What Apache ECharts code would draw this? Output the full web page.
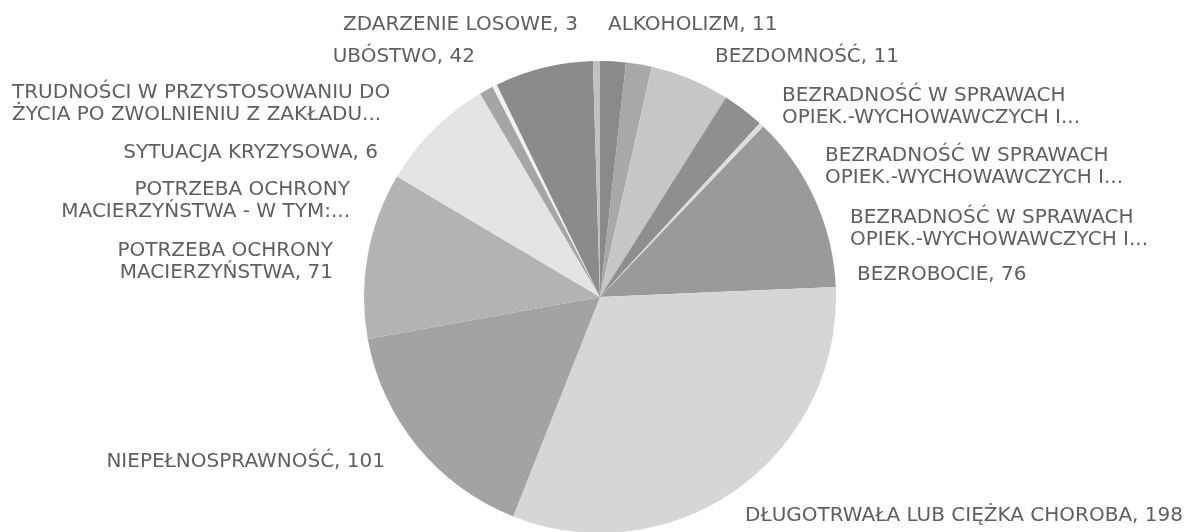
<!DOCTYPE html>
<html lang="pl">
<head>
    <meta charset="UTF-8">
    <title>Powody przyznania pomocy</title>
    <script src="https://cdn.jsdelivr.net/npm/echarts@6/dist/echarts.min.js"></script>
    <style>
        html, body { margin: 0; padding: 0; background: #fff; }
        #main { width: 1204px; height: 532px; }
    </style>
</head>
<body>
<div id="main"></div>
<script>
    // kategorie (w kolejnosci zgodnej z ruchem wskazowek zegara od godz. 12)
    var categories = [
        'ALKOHOLIZM',
        'BEZDOMNOŚĆ',
        'BEZRADNOŚĆ W SPRAWACH\nOPIEK.-WYCHOWAWCZYCH I...',
        'BEZRADNOŚĆ W SPRAWACH\nOPIEK.-WYCHOWAWCZYCH I...',
        'BEZRADNOŚĆ W SPRAWACH\nOPIEK.-WYCHOWAWCZYCH I...',
        'BEZROBOCIE',
        'DŁUGOTRWAŁA LUB CIĘŻKA CHOROBA',
        'NIEPEŁNOSPRAWNOŚĆ',
        'POTRZEBA OCHRONY\nMACIERZYŃSTWA',
        'POTRZEBA OCHRONY\nMACIERZYŃSTWA - W TYM:...',
        'SYTUACJA KRYZYSOWA',
        'TRUDNOŚCI W PRZYSTOSOWANIU DO\nŻYCIA PO ZWOLNIENIU Z ZAKŁADU...',
        'UBÓSTWO',
        'ZDARZENIE LOSOWE'
    ];
    var values = [11, 11, 34, 18, 2, 76, 198, 101, 71, 50, 6, 2, 42, 3];
    var sliceColors = ['#8a8a8a', '#a8a8a8', '#c6c6c6', '#8f8f8f', '#dedede', '#9a9a9a', '#d6d6d6',
        '#a3a3a3', '#b3b3b3', '#e4e4e4', '#a5a5a5', '#f0f0f0', '#8b8b8b', '#c0c0c0'];

    // rozmieszczenie etykiet: [x, y, wyrownanie]
    var labelSpots = [
        [608, 25, 'left'], [715, 57, 'left'], [782, 107, 'left'], [825, 167, 'left'],
        [850, 229, 'left'], [857, 275, 'left'], [745, 516, 'left'], [385, 462, 'right'],
        [333, 262, 'right'], [350, 201, 'right'], [378, 153, 'right'], [12, 104, 'left'],
        [475, 57, 'right'], [578, 25, 'right']
    ];

    var chart = echarts.init(document.getElementById('main'));

    var pieData = [];
    for (var i = 0; i < categories.length; i++) {
        pieData.push({
            name: categories[i],
            value: values[i],
            itemStyle: { color: sliceColors[i] }
        });
    }

    chart.setOption({
        backgroundColor: '#fff',
        animation: false,
        series: [{
            type: 'pie',
            center: [600, 297],
            radius: 236,
            startAngle: 90,
            clockwise: true,
            avoidLabelOverlap: false,
            data: pieData,
            itemStyle: { borderWidth: 0 },
            label: {
                show: true,
                position: 'outside',
                color: '#5f5f5f',
                fontFamily: 'DejaVu Sans',
                fontSize: 20,
                lineHeight: 22,
                formatter: function (p) {
                    if (p.name.slice(-3) === '...') return p.name;
                    return p.name + ', ' + p.value;
                }
            },
            labelLine: { show: false },
            labelLayout: function (p) {
                var s = labelSpots[p.dataIndex];
                return { x: s[0], y: s[1], align: s[2], verticalAlign: 'middle', hideOverlap: false };
            }
        }]
    });
</script>
</body>
</html>
